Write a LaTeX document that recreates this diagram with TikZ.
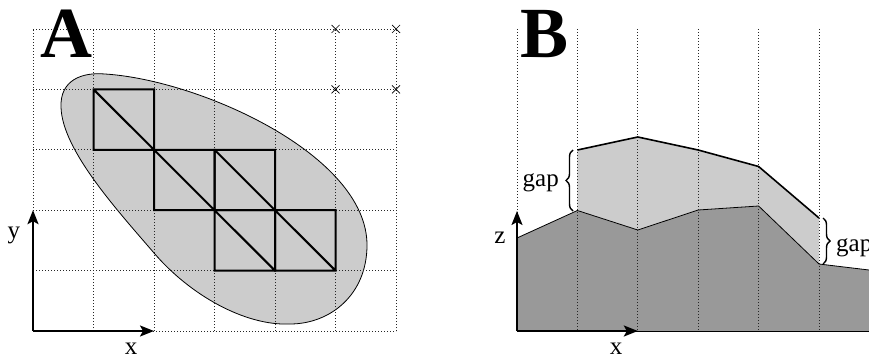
\documentclass[tikz,border=0pt]{standalone}
\usepackage{fontspec}
\setmainfont{Liberation Serif}
\usetikzlibrary{arrows.meta,decorations.pathreplacing,calc}
\begin{document}
\begin{tikzpicture}[x=1pt,y=-1pt,
 gridline/.style={line width=0.8pt, dash pattern=on 0.8pt off 2.2pt, black!85},
 cell/.style={line width=2pt, line join=miter},
 axis/.style={line width=2pt, -{Stealth[length=14pt,width=11pt,inset=3pt]}},
 lbl/.style={font=\fontsize{25}{30}\selectfont, inner sep=0pt},
 panel/.style={font=\fontsize{72}{80}\selectfont\bfseries, inner sep=0pt},
 xmark/.style={line width=0.7pt},
 bracestyle/.style={decorate, decoration={brace, amplitude=7pt}, line width=1.4pt}]
\useasboundingbox (0,0) rectangle (869,358);
% ---------- Panel A ----------
\foreach \i in {0,...,6} \foreach \j in {0,...,5}
  \coordinate (a\i\j) at ({33+60.5*\i},{331-60.4*\j});
\fill[black!20, draw=black, line width=0.8pt]
  (61,107) .. controls (60,80) and (82,72) .. (105,74)
  .. controls (200,80) and (367,155) .. (367,245)
  .. controls (367,295) and (330,324) .. (290,324)
  .. controls (245,326) and (190,295) .. (154,253)
  .. controls (118,211) and (62,150) .. (61,107) -- cycle;
\foreach \i in {0,...,6} \draw[gridline] (a\i0) -- (a\i5);
\foreach \j in {0,...,5} \draw[gridline] (a0\j) -- (a6\j);
\draw[cell] (a13) rectangle (a24) (a14) -- (a23);
\draw[cell] (a22) rectangle (a33) (a23) -- (a32);
\draw[cell] (a32) rectangle (a43) (a33) -- (a42);
\draw[cell] (a31) rectangle (a42) (a32) -- (a41);
\draw[cell] (a41) rectangle (a52) (a42) -- (a51);
\foreach \c in {a55,a65,a54,a64}
  \draw[xmark] ($(\c)+(-4,-4)$) -- ($(\c)+(4,4)$) ($(\c)+(-4,4)$) -- ($(\c)+(4,-4)$);
\draw[axis] (a00) -- (a02);
\draw[axis] (a00) -- (a20);
\node[lbl, anchor=base] (ya) at (14,238) {y};
\node[lbl, anchor=base] (xa) at (131,354) {x};
\node[panel, anchor=base] (pa) at (66,58) {A};
% ---------- Panel B ----------
\foreach \i in {0,...,5} \coordinate (v\i) at ({517+60.4*\i},29);
\foreach \i in {0,...,5} \coordinate (w\i) at ({517+60.4*\i},331);
\coordinate (d0) at (517,238);
\coordinate (d1) at (577.4,210.5);
\coordinate (d2) at (637.8,230);
\coordinate (d3) at (698.2,210);
\coordinate (d4) at (758.6,206);
\coordinate (d5) at (819,264);
\coordinate (d6) at (869,270);
\coordinate (d7) at (869,331);
\coordinate (u1) at (577.4,150);
\coordinate (u2) at (637.8,137);
\coordinate (u3) at (698.2,150);
\coordinate (u4) at (758.6,166.5);
\coordinate (u5) at (819,218);
\fill[black!40] (d0) -- (d1) -- (d2) -- (d3) -- (d4) -- (d5) -- (d6) -- (d7) -- (w0) -- cycle;
\fill[black!20] (u1) -- (u2) -- (u3) -- (u4) -- (u5) -- (d5) -- (d4) -- (d3) -- (d2) -- (d1) -- cycle;
\draw[line width=0.8pt] (d0) -- (d1) -- (d2) -- (d3) -- (d4) -- (d5) -- (d6);
\draw[line width=0.8pt] (w0) -- (d7);
\foreach \i in {0,...,5} \draw[gridline] (v\i) -- (w\i);
\draw[line width=1.6pt, line join=round] (u1) -- (u2) -- (u3) -- (u4) -- (u5);
\draw[bracestyle] (573,211) -- (573,150);
\draw[bracestyle] (823,218) -- (823,264);
\node[lbl, anchor=base east] (g1) at (559,186) {gap};
\node[lbl, anchor=base west] (g2) at (836,251) {gap};
\draw[axis] (w0) -- (517,211);
\draw[axis] (w0) -- (w2);
\node[lbl, anchor=base] (zb) at (500,243) {z};
\node[lbl, anchor=base] (xb) at (616,354) {x};
\node[panel, anchor=base] (pb) at (545,58) {B};
\end{tikzpicture}
\end{document}
